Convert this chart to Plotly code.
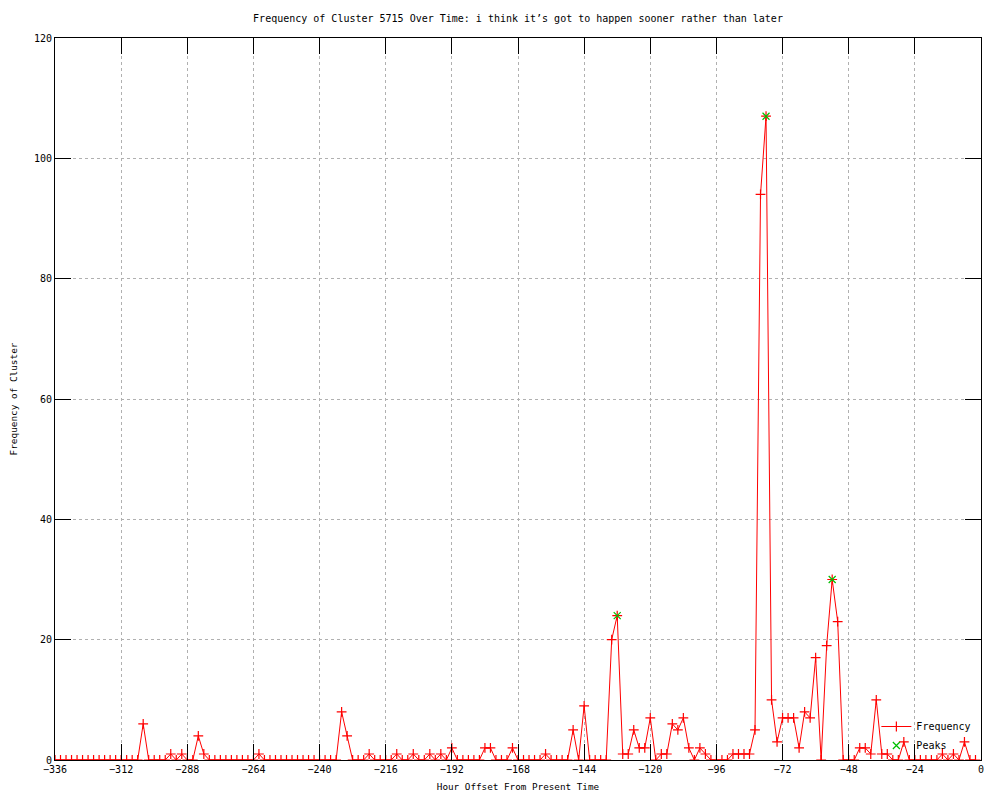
import plotly.graph_objects as go

# hour offsets, one point every 2 hours
hours = list(range(-336, 0, 2))

freq = [0] * 16 + [6, 0, 0, 0, 0, 1, 0, 1, 0, 0, 4, 1] + [0] * 9 + [1] + [0] * 14 + \
       [8, 4, 0, 0, 0, 1, 0, 0, 0, 0, 1, 0, 0, 1, 0, 0, 1, 0, 1, 0, 2,
        0, 0, 0, 0, 0, 2, 2, 0, 0, 0, 2, 0, 0, 0, 0, 0, 1, 0, 0, 0, 0,
        5, 0, 9, 0, 0, 0, 0, 20, 24, 1, 1, 5, 2, 2, 7, 0, 1, 1, 6, 5, 7,
        2, 0, 2, 1, 0, 0, 0, 0, 1, 1, 1, 1, 5, 94, 107, 10, 3, 7, 7, 7,
        2, 8, 7, 17, 0, 19, 30, 23, 0, 0, 0, 2, 2, 1, 10, 1, 1, 0, 0, 3,
        0, 0, 0, 0, 0, 0, 1, 0, 1, 0, 3, 0, 0]

peak_hours = [-132, -78, -54]
peak_vals = [24, 107, 30]

xticks = list(range(-336, 1, 24))
yticks = list(range(0, 121, 20))

FONT = "DejaVu Sans Mono"

fig = go.Figure()

fig.add_trace(go.Scatter(x=hours, y=freq, name='Frequency', mode='lines+markers',
                         line=dict(color='#ff0000', width=1),
                         marker=dict(symbol='cross-thin', size=7,
                                     line=dict(color='#ff0000', width=1.2))))

fig.add_trace(go.Scatter(x=peak_hours, y=peak_vals, name='Peaks', mode='markers',
                         marker=dict(symbol='x-thin', size=7, color='#00c000',
                                     line=dict(color='#00c000', width=1.2))))

axis_common = dict(showgrid=True, gridcolor='#b0b0b0', griddash='dot', gridwidth=1,
                   showline=True, linecolor='black', linewidth=1, mirror='ticks',
                   ticks='inside', ticklen=16, tickcolor='black', tickwidth=1,
                   zeroline=False, tickfont=dict(family=FONT, size=10, color='black'))

fig.update_xaxes(range=[-336, 0], tickvals=xticks, **axis_common,
                 title=dict(text='Hour Offset From Present Time', standoff=14,
                            font=dict(family=FONT, size=9.3, color='black')))
fig.update_yaxes(range=[0, 120], tickvals=yticks, **axis_common,
                 title=dict(text='Frequency of Cluster', standoff=14,
                            font=dict(family=FONT, size=9.4, color='black')))

# page body has an 8px margin, so the figure is sized to sit inside the window
fig.update_layout(
    width=984, height=784,
    paper_bgcolor='white', plot_bgcolor='white',
    margin=dict(l=47, r=11, t=30, b=32, autoexpand=False),
    title=dict(text='Frequency of Cluster 5715 Over Time: i think it\u2019s got to happen sooner rather than later',
               xref='paper', x=0.5, xanchor='center', y=1 - 10 / 784, yanchor='middle',
               font=dict(family=FONT, size=10, color='black')),
    legend=dict(x=0.995, y=0.0, xanchor='right', yanchor='bottom',
                bgcolor='rgba(0,0,0,0)', font=dict(family=FONT, size=10, color='black'),
                tracegroupgap=0, itemwidth=30),
    showlegend=True,
)

fig.write_html("out.html")
